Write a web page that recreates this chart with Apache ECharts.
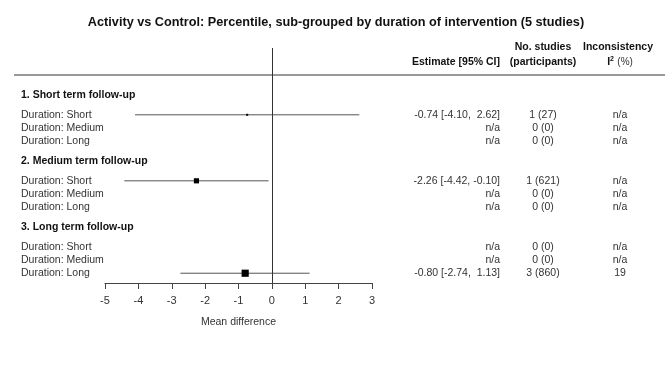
<!DOCTYPE html>
<html>
<head>
<meta charset="utf-8">
<script src="https://cdn.jsdelivr.net/npm/echarts@6/dist/echarts.min.js"></script>
<style>
  html, body { margin: 0; padding: 0; background: #fff; }
  #chart-container { width: 672px; height: 373px; }
</style>
</head>
<body>
<div id="chart-container"></div>
<script>
// data
const groups = ['1. Short term follow-up', '2. Medium term follow-up', '3. Long term follow-up'];
const subgroups = ['Duration: Short', 'Duration: Medium', 'Duration: Long'];
const estimate = [-0.74, null, null, -2.26, null, null, null, null, -0.80];
const lower = [-4.10, null, null, -4.42, null, null, null, null, -2.74];
const upper = [2.62, null, null, -0.10, null, null, null, null, 1.13];
const studies = [1, 0, 0, 1, 0, 0, 0, 0, 3];
const participants = [27, 0, 0, 621, 0, 0, 0, 0, 860];
const inconsistency = ['n/a', 'n/a', 'n/a', 'n/a', 'n/a', 'n/a', 'n/a', 'n/a', '19'];
const xTicks = [-5, -4, -3, -2, -1, 0, 1, 2, 3];

var dom = document.getElementById('chart-container');
var myChart = echarts.init(dom, null, { renderer: 'canvas' });

const FONT = 'Liberation Sans, Arial, sans-serif';
const TXT = '#333';

function fmt(v) {
  var s = v.toFixed(2);
  return v >= 0 ? ' ' + s : s;
}

// one row per subgroup, headings every 5 lines
var rows = [];
groups.forEach(function (g, gi) {
  subgroups.forEach(function (s, si) {
    var i = gi * 3 + si;
    rows.push({
      value: [estimate[i], gi * 5 + 1.5 + si],
      label: s,
      est: estimate[i],
      lo: lower[i],
      hi: upper[i],
      ci: estimate[i] == null ? 'n/a' : fmt(estimate[i]) + ' [' + fmt(lower[i]) + ', ' + fmt(upper[i]) + ']',
      n: studies[i] + ' (' + participants[i] + ')',
      i2: inconsistency[i],
      size: Math.max(2, participants[i] / 120)
    });
  });
});
var headings = groups.map(function (g, gi) { return { value: [0, gi * 5], label: g }; });

var option = {
  animation: false,
  title: {
    text: 'Activity vs Control: Percentile, sub-grouped by duration of intervention (5 studies)',
    left: 'center',
    top: 11,
    textStyle: { fontFamily: FONT, fontSize: 12.7, fontWeight: 'bold', color: '#111' }
  },
  grid: { left: 105, right: 300, top: 48, bottom: 90 },
  xAxis: {
    type: 'value',
    min: xTicks[0],
    max: xTicks[xTicks.length - 1],
    interval: 1,
    splitLine: { show: false },
    axisLine: { onZero: false, lineStyle: { color: '#444', width: 1 } },
    axisTick: { length: 6, lineStyle: { color: '#444' } },
    axisLabel: { fontFamily: FONT, fontSize: 11, color: TXT, margin: 12 },
    name: 'Mean difference',
    nameLocation: 'middle',
    nameGap: 34,
    nameTextStyle: { fontFamily: FONT, fontSize: 10.5, color: TXT }
  },
  yAxis: {
    type: 'value',
    inverse: true,
    min: -3.56,
    max: 14.24,
    show: false
  },
  graphic: [
    { type: 'line', shape: { x1: 14, y1: 75, x2: 665, y2: 75 }, style: { stroke: '#999', lineWidth: 2 } },
    { type: 'text', x: 500, y: 62, style: { text: 'Estimate [95% CI]', font: 'bold 10.5px ' + FONT, fill: '#111', align: 'right', verticalAlign: 'middle' } },
    { type: 'text', x: 543, y: 47, style: { text: 'No. studies', font: 'bold 10.5px ' + FONT, fill: '#111', align: 'center', verticalAlign: 'middle' } },
    { type: 'text', x: 543, y: 62, style: { text: '(participants)', font: 'bold 10.5px ' + FONT, fill: '#111', align: 'center', verticalAlign: 'middle' } },
    { type: 'text', x: 618, y: 47, style: { text: 'Inconsistency', font: 'bold 10.5px ' + FONT, fill: '#111', align: 'center', verticalAlign: 'middle' } },
    {
      type: 'text', x: 620, y: 62,
      style: {
        text: '{b|I}{s|2} {p|(%)}', align: 'center', verticalAlign: 'middle',
        rich: {
          b: { font: 'bold 10.5px ' + FONT, fill: '#111' },
          s: { font: 'bold 7px ' + FONT, fill: '#111', verticalAlign: 'top', padding: [0, 0, 6, 0] },
          p: { font: '10px ' + FONT, fill: '#333' }
        }
      }
    }
  ],
  series: [
    {
      type: 'custom',
      name: 'headings',
      data: headings,
      renderItem: function (params, api) {
        var d = headings[params.dataIndex];
        var p = api.coord(d.value);
        return {
          type: 'text',
          style: { x: 21, y: p[1], text: d.label, font: 'bold 10.5px ' + FONT, fill: '#111', verticalAlign: 'middle' }
        };
      }
    },
    {
      type: 'custom',
      name: 'rows',
      data: rows,
      renderItem: function (params, api) {
        var d = rows[params.dataIndex];
        var y = api.coord([0, d.value[1]])[1];
        var children = [
          { type: 'text', style: { x: 21, y: y, text: d.label, font: '10.5px ' + FONT, fill: TXT, verticalAlign: 'middle' } },
          { type: 'text', style: { x: 500, y: y, text: d.ci, font: '10.5px ' + FONT, fill: TXT, align: 'right', verticalAlign: 'middle' } },
          { type: 'text', style: { x: 543, y: y, text: d.n, font: '10.5px ' + FONT, fill: TXT, align: 'center', verticalAlign: 'middle' } },
          { type: 'text', style: { x: 620, y: y, text: d.i2, font: '10.5px ' + FONT, fill: TXT, align: 'center', verticalAlign: 'middle' } }
        ];
        if (d.est != null) {
          var a = api.coord([d.lo, d.value[1]]);
          var b = api.coord([d.hi, d.value[1]]);
          var c = api.coord([d.est, d.value[1]]);
          children.push({ type: 'line', shape: { x1: a[0], y1: y, x2: b[0], y2: y }, style: { stroke: '#555', lineWidth: 1 } });
          children.push({ type: 'rect', shape: { x: c[0] - d.size / 2, y: y - d.size / 2, width: d.size, height: d.size }, style: { fill: '#000' } });
        }
        return { type: 'group', children: children };
      },
      markLine: {
        silent: true,
        symbol: 'none',
        label: { show: false },
        lineStyle: { color: '#333', width: 1, type: 'solid' },
        data: [{ xAxis: 0 }]
      }
    }
  ]
};

myChart.setOption(option);
window.addEventListener('resize', myChart.resize);
</script>
</body>
</html>
